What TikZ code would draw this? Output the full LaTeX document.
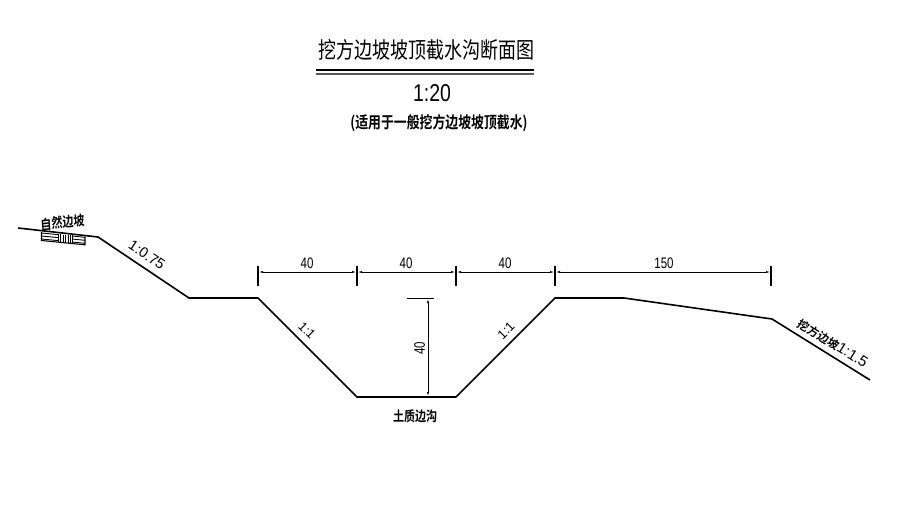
\documentclass[tikz,border=0pt]{standalone}
\usepackage{fontspec}
\setmainfont{Liberation Sans}
\newfontfamily\cjk{Noto Sans CJK SC}
\newfontfamily\cjkb{Noto Sans CJK SC Bold}
\usetikzlibrary{arrows.meta}
\tikzset{
  x=1pt,y=-1pt,
  ground/.style={line width=1.6pt,line join=miter},
  dimline/.style={line width=0.8pt,{Latex[length=5pt,width=2pt]}-{Latex[length=5pt,width=2pt]}},
  tick/.style={line width=1.1pt},
  dimtext/.style={inner sep=0pt,font=\fontsize{12.5}{12.5}\selectfont,xscale=0.92,yscale=1.22},
  slopetext/.style={inner sep=0pt,font=\fontsize{14.5}{14.5}\selectfont},
  cjklabel/.style={inner sep=0pt,font=\cjkb\fontsize{11}{11}\selectfont,yscale=1.25},
}
\begin{document}
\begin{tikzpicture}
\useasboundingbox (0,0) rectangle (918,506);
% ground profile
\coordinate (g0) at (18,228);
\coordinate (g1) at (98,237);
\coordinate (g2) at (189,298);
\coordinate (g3) at (258,298);
\coordinate (g4) at (357,397);
\coordinate (g5) at (456,397);
\coordinate (g6) at (555,298);
\coordinate (g7) at (624,298);
\coordinate (g8) at (772,319);
\coordinate (g9) at (870,380);
\draw[ground] (g0)--(g1)--(g2)--(g3)--(g4)--(g5)--(g6)--(g7)--(g8)--(g9);
% title
\node[inner sep=0pt,font=\cjk\fontsize{18}{18}\selectfont,yscale=1.25] (title) at (426,49.5) {挖方边坡坡顶截水沟断面图};
\coordinate (tl) at (316,70); \coordinate (tr) at (534,70);
\coordinate (tl2) at (316,74); \coordinate (tr2) at (534,74);
\draw[line width=1.7pt] (tl)--(tr);
\draw[line width=1.7pt,black!65] (tl2)--(tr2);
\node[inner sep=0pt,font=\fontsize{19.5}{19.5}\selectfont,yscale=1.25] (scale) at (432,93) {1:20};
\node[inner sep=0pt,font=\cjkb\fontsize{12.5}{12.5}\selectfont,xscale=1.03,yscale=1.3] (sub) at (439,123) {(适用于一般挖方边坡坡顶截水)};
% natural slope hatch
\node[cjklabel,rotate=5] (nat) at (62.5,222.5) {自然边坡};
\draw[line width=1.1pt] (41.5,232)--(41.5,240.5)--(85,244.8)--(85,236.5);
\foreach \y in {0,3,6}{\draw[line width=0.9pt] (41.5,233+\y)--(58,234.6+\y) (72,236+\y)--(85,237.3+\y);}
\foreach \x in {58,60.5,63,65.5,68,70.5,72.5}{\draw[line width=0.9pt] (\x,234+\x*0.1-5.8)--(\x,242.3+\x*0.1-5.8);}
% slope labels
\node[slopetext,rotate=-34] (s1) at (147,255) {1:0.75};
\node[slopetext,font=\fontsize{13}{13}\selectfont,rotate=-45] (s2) at (307,330.5) {1:1};
\node[slopetext,font=\fontsize{13}{13}\selectfont,rotate=45] (s3) at (506,330.5) {1:1};
\node[inner sep=0pt,rotate=-32,anchor=west] (s4) at (799,322) {{\cjkb\fontsize{11.5}{11.5}\selectfont 挖方边坡}\fontsize{15}{15}\selectfont 1:1.5};
% dimensions
\foreach \n/\x in {a/258,b/357,c/456,d/555,e/771}{
  \coordinate (\n t) at (\x,265.5); \coordinate (\n b) at (\x,286); \coordinate (\n m) at (\x,272);
  \draw[tick] (\n t)--(\n b);
}
\draw[dimline] (am)--(bm);
\draw[dimline] (bm)--(cm);
\draw[dimline] (cm)--(dm);
\draw[dimline] (dm)--(em);
\node[dimtext] (d1) at (307,263) {40};
\node[dimtext] (d2) at (406,263) {40};
\node[dimtext] (d3) at (505,263) {40};
\node[dimtext] (d4) at (664,263) {150};
\coordinate (vt) at (428,298); \coordinate (vb) at (428,397);
\coordinate (vl) at (407,298); \coordinate (vr) at (434,298);
\draw[line width=0.9pt] (vl)--(vr);
\draw[dimline] (vt)--(vb);
\node[inner sep=0pt,font=\fontsize{12.5}{12.5}\selectfont,rotate=90] (d5) at (419.5,348) {\scalebox{0.92}[1.22]{40}};
\node[cjklabel] (ditch) at (415,416) {土质边沟};
\end{tikzpicture}
\end{document}
